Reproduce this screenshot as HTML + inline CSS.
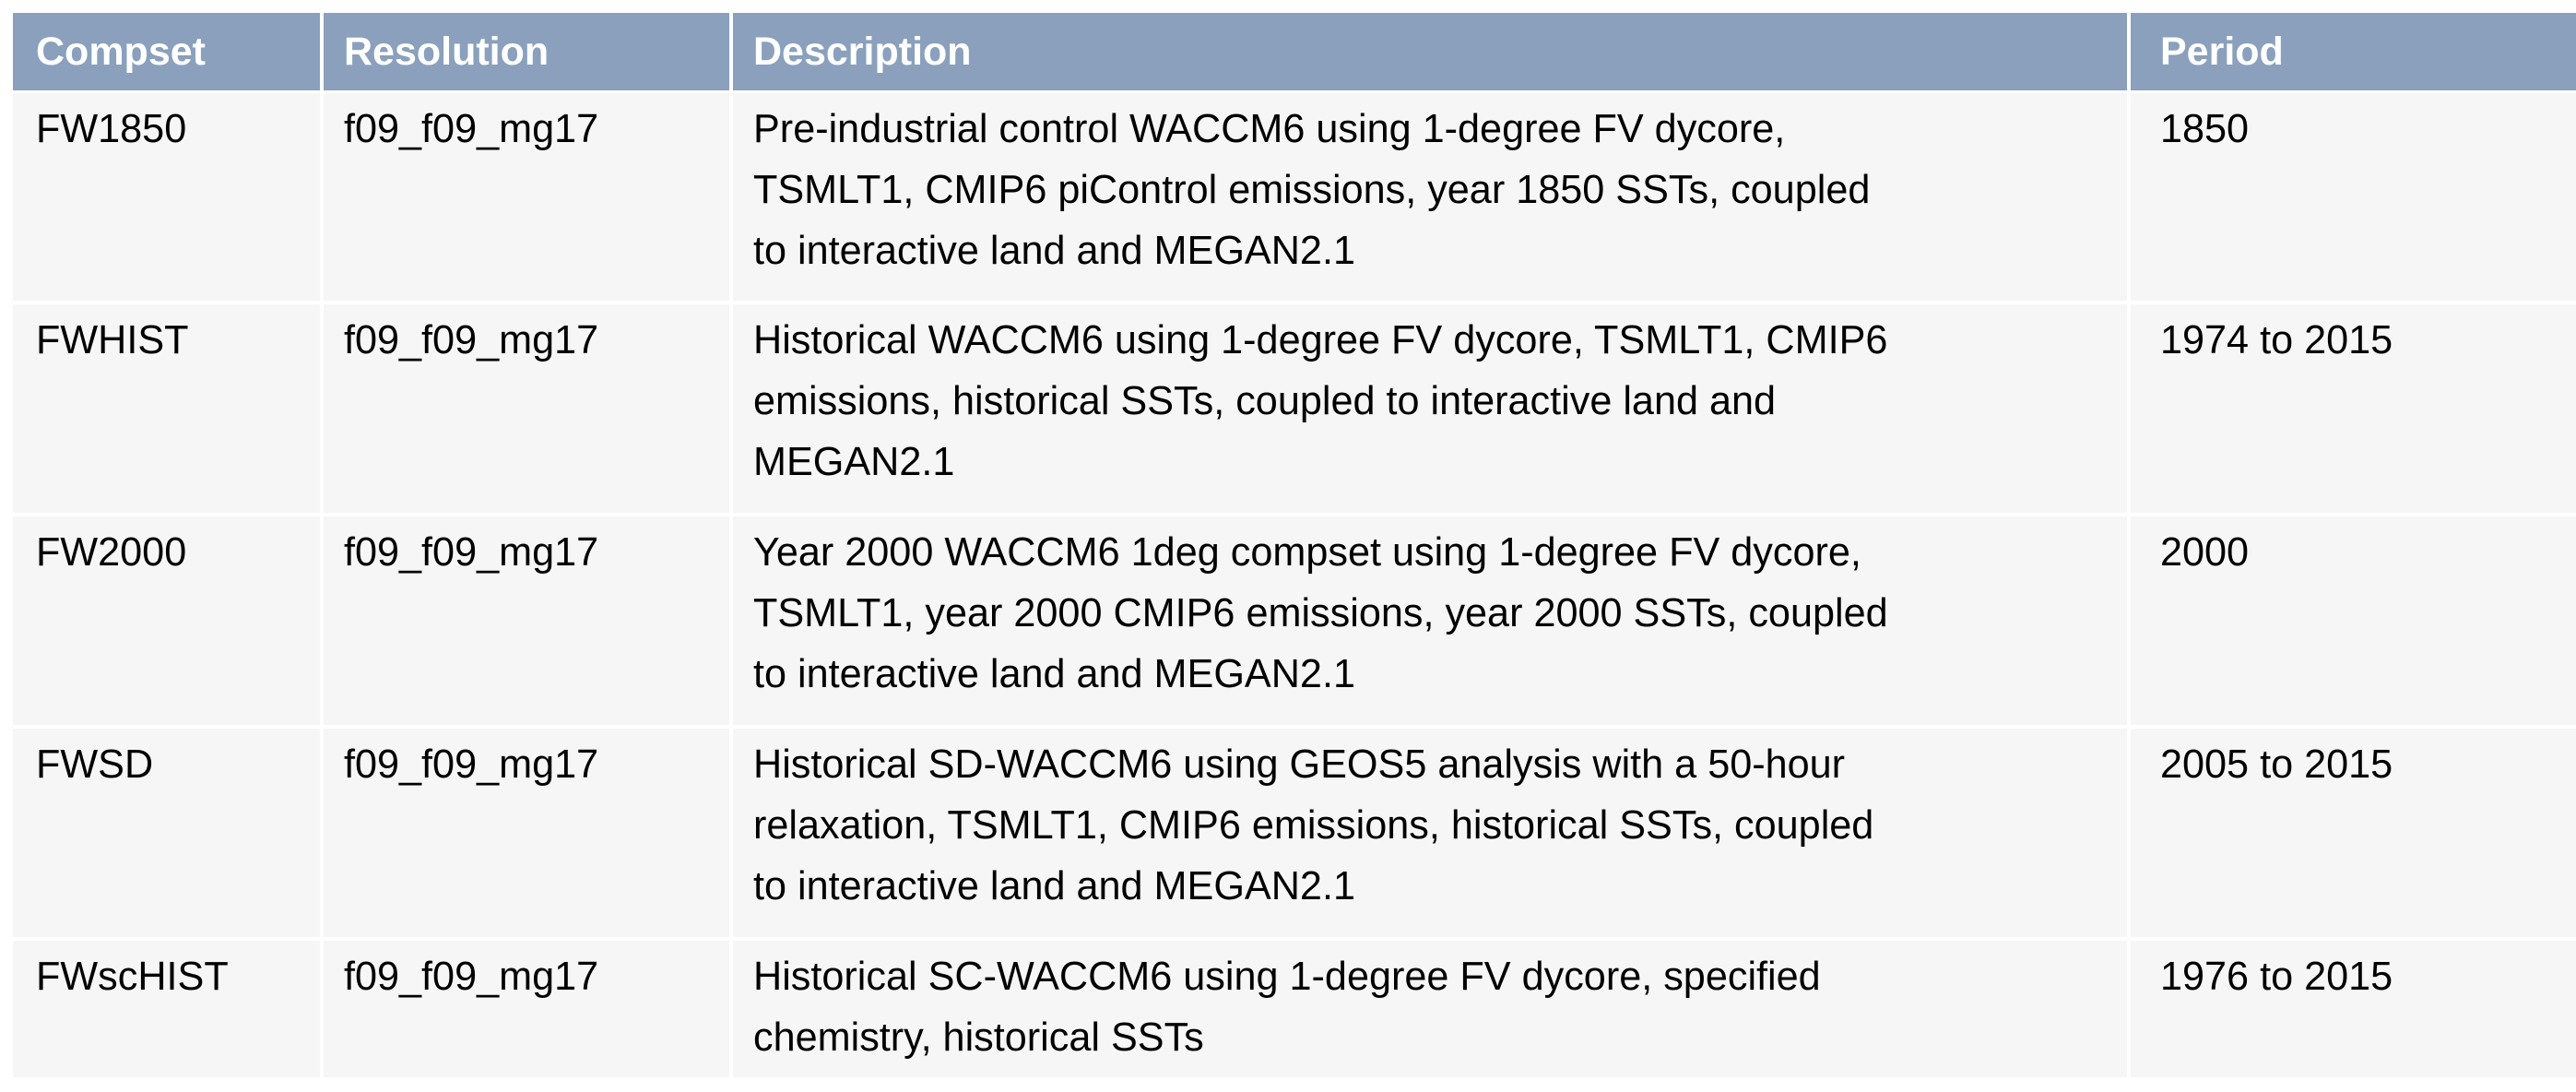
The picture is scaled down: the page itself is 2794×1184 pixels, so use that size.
<!DOCTYPE html>
<html><head><meta charset="utf-8"><style>
html,body{margin:0;padding:0;background:#fff;width:2794px;height:1184px;overflow:hidden}
.c{position:absolute;box-sizing:border-box;font-family:"Liberation Sans","DejaVu Sans",sans-serif;white-space:nowrap}
.h{background:#8aa0bc;color:#fff;font-weight:bold;font-size:43px;line-height:84px;padding-left:22px}
.b{background:#f6f6f6;color:#000;font-size:43.2px;line-height:66px;padding-left:22px;padding-top:6px}
.p{padding-left:32px}
.k{padding-left:25px}
</style></head><body>
<div>
<div class="c h k" style="left:14px;top:14px;width:333px;height:84px">Compset</div>
<div class="c h" style="left:351px;top:14px;width:440px;height:84px">Resolution</div>
<div class="c h" style="left:795px;top:14px;width:1512px;height:84px">Description</div>
<div class="c h p" style="left:2311px;top:14px;width:483px;height:84px">Period</div>

<div class="c b k" style="left:14px;top:101px;width:333px;height:225px">FW1850</div>
<div class="c b" style="left:351px;top:101px;width:440px;height:225px">f09_f09_mg17</div>
<div class="c b" style="left:795px;top:101px;width:1512px;height:225px">Pre-industrial control WACCM6 using 1-degree FV dycore,<br>TSMLT1, CMIP6 piControl emissions, year 1850 SSTs, coupled<br>to interactive land and MEGAN2.1</div>
<div class="c b p" style="left:2311px;top:101px;width:483px;height:225px">1850</div>

<div class="c b k" style="left:14px;top:330px;width:333px;height:226px">FWHIST</div>
<div class="c b" style="left:351px;top:330px;width:440px;height:226px">f09_f09_mg17</div>
<div class="c b" style="left:795px;top:330px;width:1512px;height:226px">Historical WACCM6 using 1-degree FV dycore, TSMLT1, CMIP6<br>emissions, historical SSTs, coupled to interactive land and<br>MEGAN2.1</div>
<div class="c b p" style="left:2311px;top:330px;width:483px;height:226px">1974 to 2015</div>

<div class="c b k" style="left:14px;top:560px;width:333px;height:226px">FW2000</div>
<div class="c b" style="left:351px;top:560px;width:440px;height:226px">f09_f09_mg17</div>
<div class="c b" style="left:795px;top:560px;width:1512px;height:226px">Year 2000 WACCM6 1deg compset using 1-degree FV dycore,<br>TSMLT1, year 2000 CMIP6 emissions, year 2000 SSTs, coupled<br>to interactive land and MEGAN2.1</div>
<div class="c b p" style="left:2311px;top:560px;width:483px;height:226px">2000</div>

<div class="c b k" style="left:14px;top:790px;width:333px;height:226px">FWSD</div>
<div class="c b" style="left:351px;top:790px;width:440px;height:226px">f09_f09_mg17</div>
<div class="c b" style="left:795px;top:790px;width:1512px;height:226px">Historical SD-WACCM6 using GEOS5 analysis with a 50-hour<br>relaxation, TSMLT1, CMIP6 emissions, historical SSTs, coupled<br>to interactive land and MEGAN2.1</div>
<div class="c b p" style="left:2311px;top:790px;width:483px;height:226px">2005 to 2015</div>

<div class="c b k" style="left:14px;top:1020px;width:333px;height:148px">FWscHIST</div>
<div class="c b" style="left:351px;top:1020px;width:440px;height:148px">f09_f09_mg17</div>
<div class="c b" style="left:795px;top:1020px;width:1512px;height:148px">Historical SC-WACCM6 using 1-degree FV dycore, specified<br>chemistry, historical SSTs</div>
<div class="c b p" style="left:2311px;top:1020px;width:483px;height:148px">1976 to 2015</div>
</div>
</body></html>
